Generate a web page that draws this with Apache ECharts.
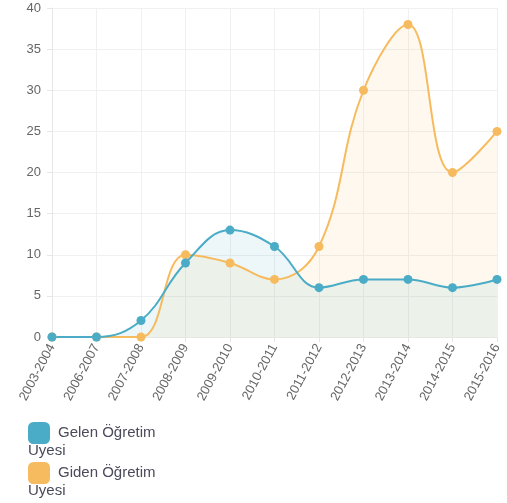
<!DOCTYPE html>
<html>
<head>
<meta charset="utf-8">
<script src="https://cdn.jsdelivr.net/npm/echarts@6/dist/echarts.min.js"></script>
<style>
  html, body { margin: 0; padding: 0; background: #fff; }
  #chart { width: 507px; height: 503px; }
</style>
</head>
<body>
<div id="chart"></div>
<script>
const years = ['2003-2004', '2006-2007', '2007-2008', '2008-2009', '2009-2010', '2010-2011',
  '2011-2012', '2012-2013', '2013-2014', '2014-2015', '2015-2016'];
const gelen = [0, 0, 2, 9, 13, 11, 6, 7, 7, 6, 7];
const giden = [0, 0, 0, 10, 9, 7, 11, 30, 38, 20, 25];

const blue = '#4aacc6';
const orange = '#f7bb5f';
const font = 'Arial, Liberation Sans';

function lineSeries(name, data, color, fill) {
  return {
    name: name,
    type: 'line',
    data: data,
    smooth: 0.4,
    symbol: 'circle',
    symbolSize: 9,
    itemStyle: { color: color },
    lineStyle: { color: color, width: 2 },
    areaStyle: { color: fill, opacity: 1 },
    emphasis: { disabled: true }
  };
}

const chart = echarts.init(document.getElementById('chart'));
chart.setOption({
  animation: false,
  grid: { left: 52, right: 10, top: 8, bottom: 166, containLabel: false },
  xAxis: {
    type: 'category',
    data: years,
    boundaryGap: false,
    axisLine: { lineStyle: { color: '#e6e6e6' } },
    axisTick: { show: true, length: 5, lineStyle: { color: '#e6e6e6' } },
    axisLabel: { rotate: 62, color: '#666', fontSize: 13, fontFamily: font, margin: 8, interval: 0 },
    splitLine: { show: true, lineStyle: { color: '#f0f0f0' } }
  },
  yAxis: {
    type: 'value',
    min: 0,
    max: 40,
    interval: 5,
    axisLine: { show: true, lineStyle: { color: '#e6e6e6' } },
    axisTick: { show: true, length: 5, lineStyle: { color: '#e6e6e6' } },
    axisLabel: { color: '#666', fontSize: 13, fontFamily: font, margin: 11 },
    splitLine: { lineStyle: { color: '#f0f0f0' } }
  },
  legend: {
    orient: 'vertical',
    left: 28,
    top: 422,
    padding: 0,
    itemWidth: 22,
    itemHeight: 22,
    itemGap: 18,
    icon: 'roundRect',
    textStyle: { color: '#4a4a5a', fontSize: 15, fontFamily: font, padding: [0, 0, 0, 3] },
    formatter: function (name) { return name.replace(' Üyesi', ''); },
    data: ['Gelen Öğretim Üyesi', 'Giden Öğretim Üyesi']
  },
  graphic: [
    { type: 'text', left: 28, top: 443, style: { text: 'Üyesi', fill: '#4a4a5a', font: '15px Arial, Liberation Sans' } },
    { type: 'text', left: 28, top: 483, style: { text: 'Üyesi', fill: '#4a4a5a', font: '15px Arial, Liberation Sans' } }
  ],
  series: [
    lineSeries('Giden Öğretim Üyesi', giden, orange, 'rgba(247,187,95,0.1)'),
    lineSeries('Gelen Öğretim Üyesi', gelen, blue, 'rgba(75,172,198,0.1)')
  ]
});
</script>
</body>
</html>
